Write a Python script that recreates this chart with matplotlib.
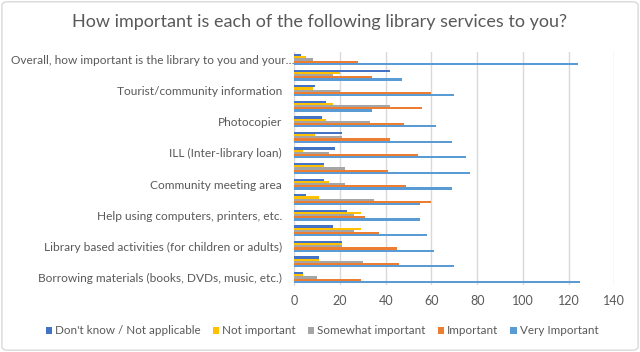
import matplotlib
matplotlib.use("Agg")
import matplotlib.pyplot as plt
import matplotlib.transforms as mtransforms
import numpy as np
from matplotlib.patches import FancyBboxPatch

plt.rcParams['font.family'] = ['Lato', 'DejaVu Sans']

categories = [
    "Borrowing materials (books, DVDs, music, etc.)",
    "Public computers / Internet access",
    "Library based activities (for children or adults)",
    "Wi-Fi",
    "Help using computers, printers, etc.",
    "Reference / research help",
    "Community meeting area",
    "Quiet study space",
    "ILL (Inter-library loan)",
    "Fax / scanner",
    "Photocopier",
    "Local history / genealogy",
    "Tourist/community information",
    "Library website / online resources",
    "Overall, how important is the library to you and your\u2026",
]

dont_know = [4, 11, 21, 17, 23, 5, 13, 13, 18, 21, 12, 14, 9, 42, 3]
not_important = [4, 11, 21, 29, 29, 11, 15, 13, 4, 9, 14, 17, 8, 20, 5]
somewhat = [10, 30, 21, 26, 26, 35, 22, 22, 15, 21, 33, 42, 20, 17, 8]
important = [29, 46, 45, 37, 31, 60, 49, 41, 54, 42, 48, 56, 60, 34, 28]
very_important = [125, 70, 61, 58, 55, 55, 69, 77, 75, 69, 62, 34, 70, 47, 124]

series_names = ["Don't know / Not applicable", "Not important", "Somewhat important",
                "Important", "Very Important"]
series_vals = [dont_know, not_important, somewhat, important, very_important]
colors = ["#4472C4", "#FFC000", "#A5A5A5", "#ED7D31", "#5B9BD5"]

fig = plt.figure(figsize=(6.4, 3.52), dpi=100)
ax = fig.add_axes([294.3 / 640, 1 - 285.3 / 352, 320 / 640, (285.3 - 51.7) / 352])

n = len(categories)
y = np.arange(n)
bh = 0.14
# top-to-bottom within group: dark blue, yellow, gray, orange, light blue
offsets = [2 * bh, 1 * bh, 0, -1 * bh, -2 * bh]
for name, vals, c, off in zip(series_names, series_vals, colors, offsets):
    ax.barh(y + off, vals, height=bh, color=c, label=name, zorder=3)

ax.set_xlim(0, 140)
ax.set_ylim(-0.5, n - 0.5)
ax.set_xticks(np.arange(0, 141, 20))
ax.set_yticks(y[::2])
ax.set_yticklabels([categories[i] for i in range(0, n, 2)])
ax.tick_params(axis='x', length=0, labelsize=9, colors="#595959", pad=7)
ax.tick_params(axis='y', length=0, labelsize=8.6, colors="#595959", pad=9)
# the long truncated label sits closer to the axis in the reference
lbl = ax.get_yticklabels()[-1]
lbl.set_transform(lbl.get_transform() + mtransforms.ScaledTranslation(13 / 100, 0, fig.dpi_scale_trans))
ax.grid(axis='x', color="#D9D9D9", linewidth=1, zorder=0)
for s in ["top", "right", "bottom"]:
    ax.spines[s].set_visible(False)
ax.spines["left"].set_color("#D9D9D9")

fig.text(0.5, 1 - 22 / 352, "How important is each of the following library services to you?",
         ha="center", va="center", fontsize=13.0, color="#595959")

leg = fig.legend(loc="center", bbox_to_anchor=(322 / 640, 1 - 331 / 352), ncol=5, frameon=False,
                 fontsize=8.4, handlelength=0.55, handleheight=0.55, handletextpad=0.24,
                 columnspacing=1.05, labelcolor="#595959")

border = FancyBboxPatch((0.003, 0.005), 0.994, 0.99, boxstyle="round,pad=0,rounding_size=0.01",
                        transform=fig.transFigure, fill=False, edgecolor="#D9D9D9", linewidth=1)
fig.patches.append(border)

fig.savefig("out.png", dpi=100)
